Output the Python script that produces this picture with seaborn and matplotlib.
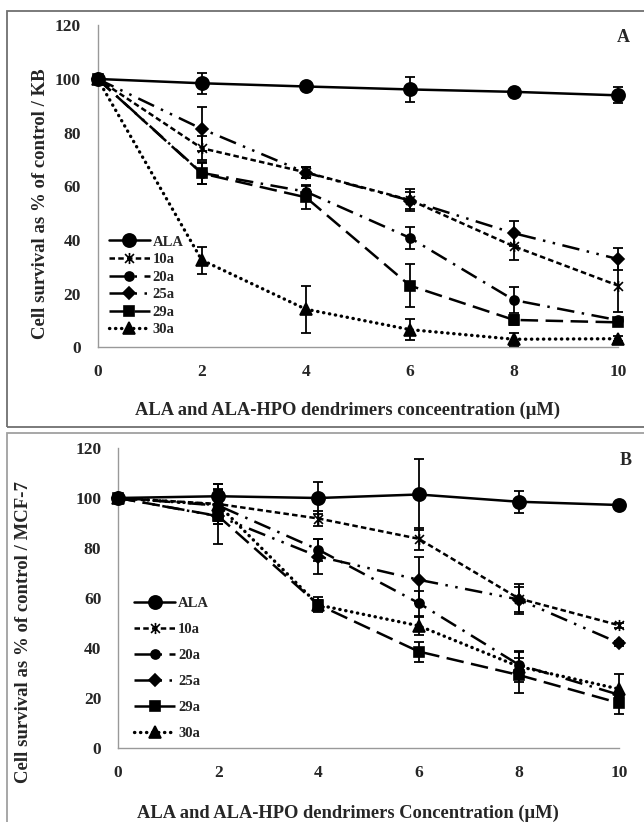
import matplotlib
matplotlib.use('Agg')
import matplotlib.pyplot as plt
import seaborn as sns
import numpy as np
from matplotlib.patches import Rectangle
from matplotlib.path import Path

# concentrations (uM)
conc = [0, 2, 4, 6, 8, 10]
series = ['ALA', '10a', '20a', '25a', '29a', '30a']

# panel A : KB cells
kb_ala = [100, 98.4, 97.2, 96.1, 95.2, 93.9]
kb_ala_err = [1, 4, 1, 4.5, 1, 3]
kb_10a = [100, 74.2, 65.2, 54.9, 37.6, 23.0]
kb_10a_err = [1, 4.5, 2, 4, 5, 10]
kb_20a = [100, 65.0, 58.0, 40.8, 17.6, 10.1]
kb_20a_err = [1, 4, 2, 4, 5, 1]
kb_25a = [100, 81.4, 65.1, 54.7, 42.5, 32.9]
kb_25a_err = [1, 8.3, 2, 3, 4.7, 4]
kb_29a = [100, 64.8, 55.9, 23.0, 10.2, 9.3]
kb_29a_err = [1, 4, 4.5, 8, 2, 1]
kb_30a = [100, 32.5, 14.2, 6.6, 3.0, 3.2]
kb_30a_err = [1, 5, 8.8, 4, 2.5, 1]

# panel B : MCF-7 cells
mcf_ala = [100, 100.7, 100.0, 101.4, 98.5, 97.2]
mcf_ala_err = [1, 5, 6.5, 14, 4.3, 1]
mcf_10a = [100, 97.6, 91.8, 83.7, 59.8, 49.1]
mcf_10a_err = [1, 8, 3, 4.5, 6, 1]
mcf_20a = [100, 97.0, 79.3, 58.0, 33.3, 21.3]
mcf_20a_err = [1, 6, 4.5, 5, 5.5, 1]
mcf_25a = [100, 92.7, 76.6, 67.3, 59.4, 42.0]
mcf_25a_err = [1, 11, 7, 9.3, 5, 1]
mcf_29a = [100, 92.8, 57.3, 38.6, 29.2, 18.0]
mcf_29a_err = [1, 3, 3, 4, 7, 4.5]
mcf_30a = [100, 97.3, 57.2, 48.9, 32.6, 23.6]
mcf_30a_err = [1, 3, 2, 3.5, 6, 6]

kb_vals = [kb_ala, kb_10a, kb_20a, kb_25a, kb_29a, kb_30a]
kb_errs = [kb_ala_err, kb_10a_err, kb_20a_err, kb_25a_err, kb_29a_err, kb_30a_err]
mcf_vals = [mcf_ala, mcf_10a, mcf_20a, mcf_25a, mcf_29a, mcf_30a]
mcf_errs = [mcf_ala_err, mcf_10a_err, mcf_20a_err, mcf_25a_err, mcf_29a_err, mcf_30a_err]

sns.set_style('white')
plt.rcParams['font.family'] = ['Liberation Serif', 'DejaVu Serif']
plt.rcParams['font.weight'] = 'bold'

star = Path([(-1, -1), (1, 1), (-1, 1), (1, -1), (0, -1.25), (0, 1.25)],
            [Path.MOVETO, Path.LINETO, Path.MOVETO, Path.LINETO, Path.MOVETO, Path.LINETO])

styles = {
    'ALA': dict(marker='o', markersize=9.5, linestyle='-', linewidth=1.8),
    '10a': dict(marker=star, markersize=8, linestyle=(0, (2.2, 1.3)), linewidth=1.8),
    '20a': dict(marker='o', markersize=6.5, linestyle=(0, (7, 3, 1, 3)), linewidth=1.8),
    '25a': dict(marker='D', markersize=6.5, linestyle=(0, (7, 3, 1, 3, 1, 3)), linewidth=1.8),
    '29a': dict(marker='s', markersize=6.5, linestyle=(0, (7, 3)), linewidth=1.8),
    '30a': dict(marker='^', markersize=8, linestyle=(0, (0.1, 1.7)), linewidth=2.4,
                dash_capstyle='round'),
}

fig = plt.figure(figsize=(6.44, 8.22), dpi=100)

# outer frames around each panel
fig.patches.append(Rectangle((7 / 644, 1 - 427 / 822), 1.0, (427 - 11) / 822,
                             transform=fig.transFigure, fill=False,
                             edgecolor='#707070', lw=1.3))
fig.patches.append(Rectangle((7 / 644, -0.2), 1.0, 0.2 + 1 - 433 / 822,
                             transform=fig.transFigure, fill=False,
                             edgecolor='#a0a0a0', lw=1.3))

axA = fig.add_axes([97.7 / 644, 1 - 347.3 / 822, 520.3 / 644, 322 / 822])
axB = fig.add_axes([118 / 644, 1 - 748 / 822, 501 / 644, 300 / 822])


def draw(ax, vals, errs):
    for name, v, e in zip(series, vals, errs):
        st = styles[name]
        ax.errorbar(conc, v, yerr=e, fmt='none', ecolor='black', elinewidth=1.3,
                    capsize=3.5, capthick=1.3, zorder=2, clip_on=False)
        sns.lineplot(x=conc, y=v, ax=ax, color='black',
                     markeredgecolor='black', markeredgewidth=1.2,
                     label=name, zorder=3, clip_on=False, **st)
    ax.set_xlim(0, 10)
    ax.set_ylim(0, 120)
    ax.set_xticks(conc)
    ax.set_yticks(range(0, 121, 20))
    for s in ['top', 'right']:
        ax.spines[s].set_visible(False)
    for s in ['left', 'bottom']:
        ax.spines[s].set_color('#999999')
        ax.spines[s].set_linewidth(1.0)
    ax.spines['bottom'].set_zorder(1)
    ax.tick_params(axis='both', direction='out', length=4, width=1.0,
                   color='#999999', labelsize=12.5, pad=8)
    for lab in ax.get_xticklabels() + ax.get_yticklabels():
        lab.set_fontweight('bold')
    ax.set_xlabel('')
    ax.set_ylabel('')
    ax.patch.set_alpha(0)


draw(axA, kb_vals, kb_errs)
draw(axB, mcf_vals, mcf_errs)

legA = axA.legend(loc='upper left', bbox_to_anchor=(0.005, 0.375), frameon=False,
                  fontsize=10.5, handlelength=2.8, handletextpad=0.2,
                  labelspacing=0.3, borderaxespad=0.2)
legB = axB.legend(loc='upper left', bbox_to_anchor=(0.015, 0.532), frameon=False,
                  fontsize=10.5, handlelength=2.8, handletextpad=0.2,
                  labelspacing=0.87, borderaxespad=0.2)
for leg in (legA, legB):
    for t in leg.get_texts():
        t.set_fontweight('bold')

fig.text(41 / 644, 1 - 204 / 822, 'Cell survival as % of control / KB',
         rotation=90, ha='center', va='center', fontsize=13.5, fontweight='bold')
fig.text(24 / 644, 1 - 632 / 822, 'Cell survival as % of control / MCF-7',
         rotation=90, ha='center', va='center', fontsize=13.5, fontweight='bold')
fig.text(348 / 644, 1 - 410 / 822, 'ALA and ALA-HPO dendrimers conceentration (µM)',
         ha='center', va='center', fontsize=13.3, fontweight='bold')
fig.text(348 / 644, 1 - 813 / 822, 'ALA and ALA-HPO dendrimers Concentration (µM)',
         ha='center', va='center', fontsize=13.3, fontweight='bold')
fig.text(623 / 644, 1 - 38 / 822, 'A', ha='center', va='center',
         fontsize=13, fontweight='bold')
fig.text(626 / 644, 1 - 460 / 822, 'B', ha='center', va='center',
         fontsize=13, fontweight='bold')

fig.savefig('out.png', dpi=100)
